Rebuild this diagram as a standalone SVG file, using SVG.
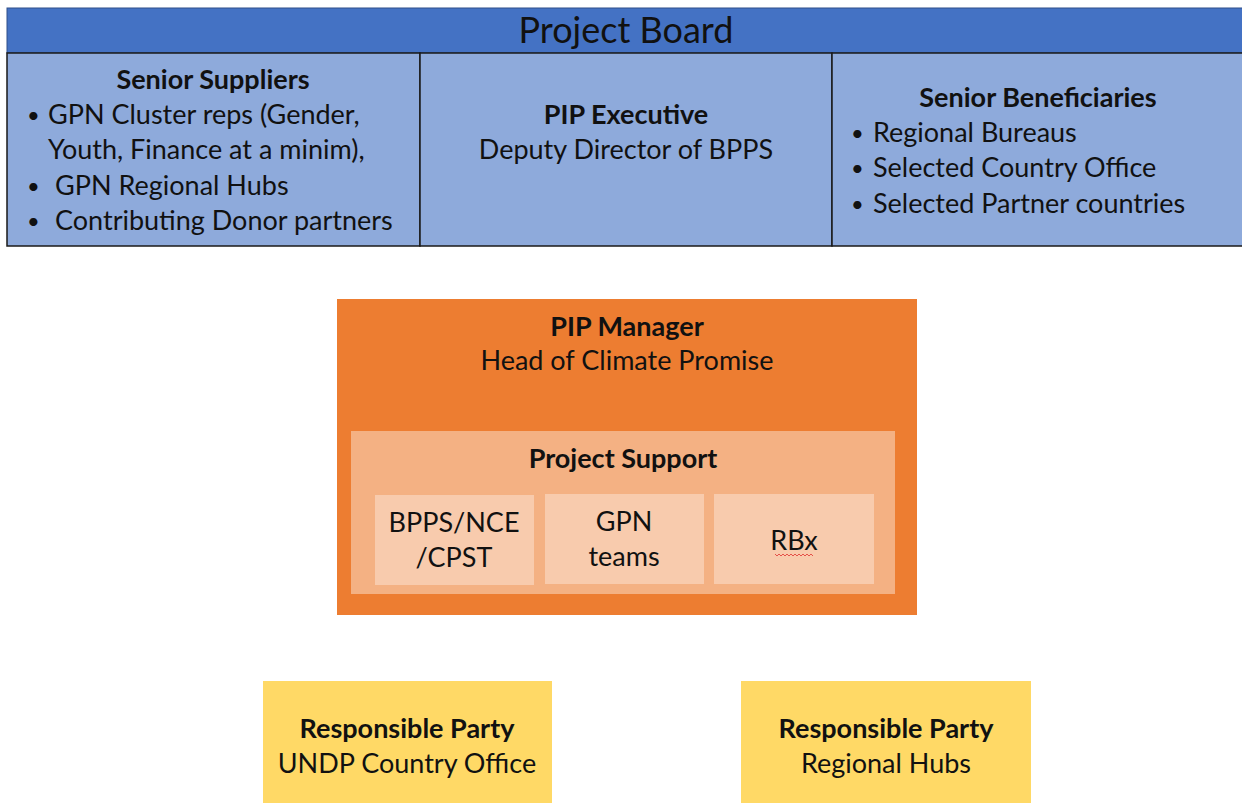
<svg xmlns="http://www.w3.org/2000/svg" width="1242" height="803" viewBox="0 0 1242 803">
<style>
text{font-family:Lato,"Open Sans","Liberation Sans",sans-serif;fill:#111;font-size:27px}
.b{font-weight:bold}
.c{text-anchor:middle}
.bl{font-size:22px}
.cell{fill:#8EAADB;stroke:#1a1a1a;stroke-width:1.5}
</style>
<rect width="1242" height="803" fill="#fff"/>
<g id="board">
<rect x="7" y="8" width="1236" height="45" fill="#4472C4" stroke="#2f4f8a" stroke-width="1"/>
<text x="626" y="43" class="c" style="font-size:36px">Project Board</text>
</g>
<g id="senior-suppliers">
<rect class="cell" x="7" y="53" width="413" height="193"/>
<text x="213" y="89" class="c b">Senior Suppliers</text>
<text x="27" y="123" class="bl">•</text><text x="48" y="124">GPN Cluster reps (Gender,</text>
<text x="48" y="159">Youth, Finance at a minim),</text>
<text x="27" y="194" class="bl">•</text><text x="55" y="195">GPN Regional Hubs</text>
<text x="27" y="229" class="bl">•</text><text x="55" y="230">Contributing Donor partners</text>
</g>
<g id="pip-executive">
<rect class="cell" x="420" y="53" width="412" height="193"/>
<text x="626" y="124" class="c b">PIP Executive</text>
<text x="626" y="159" class="c">Deputy Director of BPPS</text>
</g>
<g id="senior-beneficiaries">
<rect class="cell" x="832" y="53" width="411" height="193"/>
<text x="1038" y="107" class="c b">Senior Beneficiaries</text>
<text x="851" y="141" class="bl">•</text><text x="873" y="142">Regional Bureaus</text>
<text x="851" y="176" class="bl">•</text><text x="873" y="177">Selected Country Office</text>
<text x="851" y="212" class="bl">•</text><text x="873" y="213">Selected Partner countries</text>
</g>
<g id="pip-manager">
<rect x="337" y="299" width="580" height="316" fill="#ED7D31"/>
<text x="627" y="336" class="c b">PIP Manager</text>
<text x="627" y="370" class="c">Head of Climate Promise</text>
</g>
<g id="project-support">
<rect x="351" y="431" width="544" height="163" fill="#F4B183"/>
<text x="623" y="468" class="c b">Project Support</text>
</g>
<g id="bpps">
<rect x="375" y="495" width="159" height="90" fill="#F8CBAD"/>
<text x="454" y="532" class="c">BPPS/NCE</text>
<text x="454" y="567" class="c">/CPST</text>
</g>
<g id="gpn-teams">
<rect x="545" y="494" width="159" height="90" fill="#F8CBAD"/>
<text x="624" y="531" class="c">GPN</text>
<text x="624" y="566" class="c">teams</text>
</g>
<g id="rbx">
<rect x="714" y="494" width="160" height="90" fill="#F8CBAD"/>
<text x="794" y="550" class="c">RBx</text>
<path d="M775 554 l2 2 l2 -2 l2 2 l2 -2 l2 2 l2 -2 l2 2 l2 -2 l2 2 l2 -2 l2 2 l2 -2 l2 2 l2 -2 l2 2 l2 -2 l2 2 l2 -2 l2 2" fill="none" stroke="#e03030" stroke-width="0.8"/>
</g>
<g id="rp-country-office">
<rect x="263" y="681" width="289" height="122" fill="#FFD966"/>
<text x="407" y="738" class="c b">Responsible Party</text>
<text x="407" y="773" class="c">UNDP Country Office</text>
</g>
<g id="rp-regional-hubs">
<rect x="741" y="681" width="290" height="122" fill="#FFD966"/>
<text x="886" y="738" class="c b">Responsible Party</text>
<text x="886" y="773" class="c">Regional Hubs</text>
</g>
<g id="connectors"></g>
</svg>
